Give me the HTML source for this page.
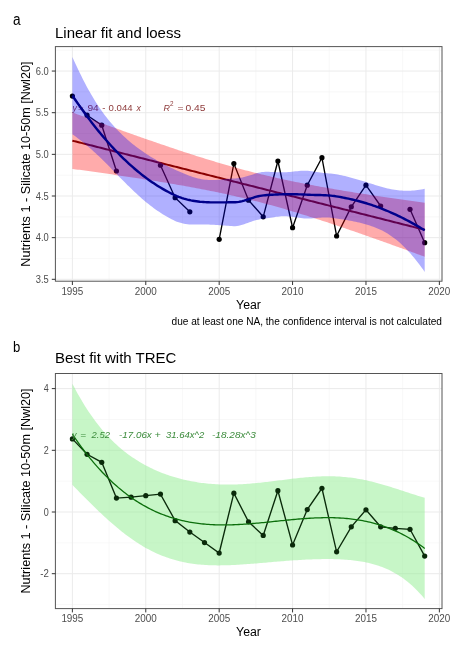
<!DOCTYPE html>
<html><head><meta charset="utf-8"><style>
html,body{margin:0;padding:0;background:#fff;width:455px;height:651px;overflow:hidden}
svg{display:block;filter:blur(0.4px)}
text{font-family:"Liberation Sans", sans-serif}
</style></head><body>
<svg width="455" height="651" viewBox="0 0 455 651">
<rect x="0" y="0" width="455" height="651" fill="#fff"/>
<text x="12.9" y="24.7" font-size="15.6" textLength="7.6" lengthAdjust="spacingAndGlyphs" fill="#000">a</text>
<text x="55" y="37.5" font-size="15" fill="#000">Linear fit and loess</text>
<g>
<rect x="55.4" y="46.6" width="386.6" height="234.6" fill="#fff"/>
<line x1="109.09" y1="46.6" x2="109.09" y2="281.2" stroke="#f3f3f3" stroke-width="0.6"/>
<line x1="182.48" y1="46.6" x2="182.48" y2="281.2" stroke="#f3f3f3" stroke-width="0.6"/>
<line x1="255.88" y1="46.6" x2="255.88" y2="281.2" stroke="#f3f3f3" stroke-width="0.6"/>
<line x1="329.27" y1="46.6" x2="329.27" y2="281.2" stroke="#f3f3f3" stroke-width="0.6"/>
<line x1="402.67" y1="46.6" x2="402.67" y2="281.2" stroke="#f3f3f3" stroke-width="0.6"/>
<line x1="55.4" y1="258.47" x2="442.0" y2="258.47" stroke="#f3f3f3" stroke-width="0.6"/>
<line x1="55.4" y1="216.82" x2="442.0" y2="216.82" stroke="#f3f3f3" stroke-width="0.6"/>
<line x1="55.4" y1="175.18" x2="442.0" y2="175.18" stroke="#f3f3f3" stroke-width="0.6"/>
<line x1="55.4" y1="133.52" x2="442.0" y2="133.52" stroke="#f3f3f3" stroke-width="0.6"/>
<line x1="55.4" y1="91.88" x2="442.0" y2="91.88" stroke="#f3f3f3" stroke-width="0.6"/>
<line x1="55.4" y1="50.22" x2="442.0" y2="50.22" stroke="#f3f3f3" stroke-width="0.6"/>
<line x1="72.39" y1="46.6" x2="72.39" y2="281.2" stroke="#ebebeb" stroke-width="1"/>
<line x1="145.78" y1="46.6" x2="145.78" y2="281.2" stroke="#ebebeb" stroke-width="1"/>
<line x1="219.18" y1="46.6" x2="219.18" y2="281.2" stroke="#ebebeb" stroke-width="1"/>
<line x1="292.57" y1="46.6" x2="292.57" y2="281.2" stroke="#ebebeb" stroke-width="1"/>
<line x1="365.97" y1="46.6" x2="365.97" y2="281.2" stroke="#ebebeb" stroke-width="1"/>
<line x1="439.37" y1="46.6" x2="439.37" y2="281.2" stroke="#ebebeb" stroke-width="1"/>
<line x1="55.4" y1="279.30" x2="442.0" y2="279.30" stroke="#ebebeb" stroke-width="1"/>
<line x1="55.4" y1="237.65" x2="442.0" y2="237.65" stroke="#ebebeb" stroke-width="1"/>
<line x1="55.4" y1="196.00" x2="442.0" y2="196.00" stroke="#ebebeb" stroke-width="1"/>
<line x1="55.4" y1="154.35" x2="442.0" y2="154.35" stroke="#ebebeb" stroke-width="1"/>
<line x1="55.4" y1="112.70" x2="442.0" y2="112.70" stroke="#ebebeb" stroke-width="1"/>
<line x1="55.4" y1="71.05" x2="442.0" y2="71.05" stroke="#ebebeb" stroke-width="1"/>
</g>
<path d="M72.39,96.04 L87.07,115.20 L101.75,125.20 L116.43,171.01" fill="none" stroke="#000" stroke-width="1.35"/>
<path d="M160.46,165.18 L175.14,197.67 L189.82,211.83" fill="none" stroke="#000" stroke-width="1.35"/>
<path d="M219.18,239.32 L233.86,163.51 L248.54,200.16 L263.22,216.82 L277.90,161.01 L292.57,227.65 L307.25,185.17 L321.93,157.68 L336.61,235.98 L351.29,206.83 L365.97,185.17 L380.65,206.00" fill="none" stroke="#000" stroke-width="1.35"/>
<path d="M410.01,209.33 L424.69,242.65" fill="none" stroke="#000" stroke-width="1.35"/>
<circle cx="72.39" cy="96.04" r="2.6" fill="#000"/>
<circle cx="87.07" cy="115.20" r="2.6" fill="#000"/>
<circle cx="101.75" cy="125.20" r="2.6" fill="#000"/>
<circle cx="116.43" cy="171.01" r="2.6" fill="#000"/>
<circle cx="160.46" cy="165.18" r="2.6" fill="#000"/>
<circle cx="175.14" cy="197.67" r="2.6" fill="#000"/>
<circle cx="189.82" cy="211.83" r="2.6" fill="#000"/>
<circle cx="219.18" cy="239.32" r="2.6" fill="#000"/>
<circle cx="233.86" cy="163.51" r="2.6" fill="#000"/>
<circle cx="248.54" cy="200.16" r="2.6" fill="#000"/>
<circle cx="263.22" cy="216.82" r="2.6" fill="#000"/>
<circle cx="277.90" cy="161.01" r="2.6" fill="#000"/>
<circle cx="292.57" cy="227.65" r="2.6" fill="#000"/>
<circle cx="307.25" cy="185.17" r="2.6" fill="#000"/>
<circle cx="321.93" cy="157.68" r="2.6" fill="#000"/>
<circle cx="336.61" cy="235.98" r="2.6" fill="#000"/>
<circle cx="351.29" cy="206.83" r="2.6" fill="#000"/>
<circle cx="365.97" cy="185.17" r="2.6" fill="#000"/>
<circle cx="380.65" cy="206.00" r="2.6" fill="#000"/>
<circle cx="410.01" cy="209.33" r="2.6" fill="#000"/>
<circle cx="424.69" cy="242.65" r="2.6" fill="#000"/>
<path d="M72.39,112.43 L74.16,113.08 L75.93,113.73 L77.70,114.39 L79.47,115.04 L81.24,115.69 L83.01,116.34 L84.78,116.99 L86.55,117.64 L88.32,118.29 L90.09,118.94 L91.86,119.59 L93.63,120.24 L95.40,120.88 L97.17,121.53 L98.94,122.17 L100.72,122.82 L102.49,123.46 L104.26,124.11 L106.03,124.75 L107.80,125.39 L109.57,126.03 L111.34,126.67 L113.11,127.31 L114.88,127.95 L116.65,128.59 L118.42,129.22 L120.19,129.86 L121.96,130.49 L123.73,131.13 L125.50,131.76 L127.27,132.39 L129.04,133.02 L130.81,133.65 L132.58,134.28 L134.35,134.91 L136.12,135.53 L137.89,136.16 L139.66,136.78 L141.43,137.41 L143.20,138.03 L144.97,138.65 L146.74,139.27 L148.51,139.88 L150.28,140.50 L152.05,141.11 L153.83,141.73 L155.60,142.34 L157.37,142.95 L159.14,143.56 L160.91,144.16 L162.68,144.77 L164.45,145.37 L166.22,145.97 L167.99,146.57 L169.76,147.17 L171.53,147.77 L173.30,148.36 L175.07,148.95 L176.84,149.54 L178.61,150.13 L180.38,150.72 L182.15,151.30 L183.92,151.88 L185.69,152.46 L187.46,153.04 L189.23,153.61 L191.00,154.19 L192.77,154.75 L194.54,155.32 L196.31,155.89 L198.08,156.45 L199.85,157.01 L201.62,157.56 L203.39,158.11 L205.16,158.66 L206.94,159.21 L208.71,159.75 L210.48,160.30 L212.25,160.83 L214.02,161.37 L215.79,161.90 L217.56,162.43 L219.33,162.95 L221.10,163.47 L222.87,163.99 L224.64,164.50 L226.41,165.01 L228.18,165.52 L229.95,166.02 L231.72,166.52 L233.49,167.02 L235.26,167.51 L237.03,168.00 L238.80,168.48 L240.57,168.96 L242.34,169.44 L244.11,169.91 L245.88,170.38 L247.65,170.85 L249.42,171.31 L251.19,171.76 L252.96,172.21 L254.73,172.66 L256.50,173.11 L258.27,173.55 L260.05,173.98 L261.82,174.42 L263.59,174.85 L265.36,175.27 L267.13,175.69 L268.90,176.11 L270.67,176.52 L272.44,176.93 L274.21,177.33 L275.98,177.73 L277.75,178.13 L279.52,178.53 L281.29,178.92 L283.06,179.30 L284.83,179.69 L286.60,180.06 L288.37,180.44 L290.14,180.81 L291.91,181.18 L293.68,181.55 L295.45,181.91 L297.22,182.27 L298.99,182.62 L300.76,182.98 L302.53,183.33 L304.30,183.67 L306.07,184.02 L307.84,184.36 L309.61,184.70 L311.38,185.03 L313.16,185.36 L314.93,185.69 L316.70,186.02 L318.47,186.35 L320.24,186.67 L322.01,186.99 L323.78,187.30 L325.55,187.62 L327.32,187.93 L329.09,188.24 L330.86,188.55 L332.63,188.86 L334.40,189.16 L336.17,189.46 L337.94,189.76 L339.71,190.06 L341.48,190.36 L343.25,190.65 L345.02,190.95 L346.79,191.24 L348.56,191.53 L350.33,191.82 L352.10,192.10 L353.87,192.39 L355.64,192.67 L357.41,192.95 L359.18,193.23 L360.95,193.51 L362.72,193.79 L364.49,194.06 L366.27,194.34 L368.04,194.61 L369.81,194.88 L371.58,195.15 L373.35,195.42 L375.12,195.69 L376.89,195.96 L378.66,196.23 L380.43,196.49 L382.20,196.76 L383.97,197.02 L385.74,197.28 L387.51,197.54 L389.28,197.80 L391.05,198.06 L392.82,198.32 L394.59,198.58 L396.36,198.83 L398.13,199.09 L399.90,199.34 L401.67,199.60 L403.44,199.85 L405.21,200.11 L406.98,200.36 L408.75,200.61 L410.52,200.86 L412.29,201.11 L414.06,201.36 L415.83,201.61 L417.60,201.85 L419.38,202.10 L421.15,202.35 L422.92,202.59 L424.69,202.84 L424.69,256.73 L422.92,256.08 L421.15,255.43 L419.38,254.78 L417.60,254.13 L415.83,253.48 L414.06,252.84 L412.29,252.19 L410.52,251.54 L408.75,250.90 L406.98,250.25 L405.21,249.61 L403.44,248.97 L401.67,248.33 L399.90,247.68 L398.13,247.04 L396.36,246.40 L394.59,245.76 L392.82,245.13 L391.05,244.49 L389.28,243.85 L387.51,243.22 L385.74,242.58 L383.97,241.95 L382.20,241.32 L380.43,240.69 L378.66,240.05 L376.89,239.43 L375.12,238.80 L373.35,238.17 L371.58,237.54 L369.81,236.92 L368.04,236.30 L366.27,235.67 L364.49,235.05 L362.72,234.43 L360.95,233.81 L359.18,233.20 L357.41,232.58 L355.64,231.97 L353.87,231.36 L352.10,230.74 L350.33,230.13 L348.56,229.53 L346.79,228.92 L345.02,228.32 L343.25,227.71 L341.48,227.11 L339.71,226.51 L337.94,225.92 L336.17,225.32 L334.40,224.73 L332.63,224.14 L330.86,223.55 L329.09,222.96 L327.32,222.37 L325.55,221.79 L323.78,221.21 L322.01,220.63 L320.24,220.06 L318.47,219.48 L316.70,218.91 L314.93,218.34 L313.16,217.78 L311.38,217.21 L309.61,216.65 L307.84,216.10 L306.07,215.54 L304.30,214.99 L302.53,214.44 L300.76,213.89 L298.99,213.35 L297.22,212.81 L295.45,212.27 L293.68,211.74 L291.91,211.21 L290.14,210.68 L288.37,210.16 L286.60,209.64 L284.83,209.12 L283.06,208.61 L281.29,208.10 L279.52,207.60 L277.75,207.09 L275.98,206.60 L274.21,206.10 L272.44,205.61 L270.67,205.12 L268.90,204.64 L267.13,204.16 L265.36,203.69 L263.59,203.22 L261.82,202.75 L260.05,202.29 L258.27,201.83 L256.50,201.37 L254.73,200.92 L252.96,200.47 L251.19,200.03 L249.42,199.59 L247.65,199.16 L245.88,198.72 L244.11,198.30 L242.34,197.87 L240.57,197.45 L238.80,197.04 L237.03,196.63 L235.26,196.22 L233.49,195.82 L231.72,195.42 L229.95,195.02 L228.18,194.63 L226.41,194.24 L224.64,193.85 L222.87,193.47 L221.10,193.09 L219.33,192.72 L217.56,192.35 L215.79,191.98 L214.02,191.61 L212.25,191.25 L210.48,190.90 L208.71,190.54 L206.94,190.19 L205.16,189.84 L203.39,189.49 L201.62,189.15 L199.85,188.81 L198.08,188.47 L196.31,188.14 L194.54,187.81 L192.77,187.48 L191.00,187.15 L189.23,186.83 L187.46,186.51 L185.69,186.19 L183.92,185.87 L182.15,185.56 L180.38,185.25 L178.61,184.94 L176.84,184.63 L175.07,184.32 L173.30,184.02 L171.53,183.72 L169.76,183.42 L167.99,183.12 L166.22,182.82 L164.45,182.53 L162.68,182.24 L160.91,181.95 L159.14,181.66 L157.37,181.37 L155.60,181.09 L153.83,180.80 L152.05,180.52 L150.28,180.24 L148.51,179.96 L146.74,179.68 L144.97,179.40 L143.20,179.13 L141.43,178.85 L139.66,178.58 L137.89,178.31 L136.12,178.04 L134.35,177.77 L132.58,177.50 L130.81,177.23 L129.04,176.97 L127.27,176.70 L125.50,176.44 L123.73,176.18 L121.96,175.91 L120.19,175.65 L118.42,175.39 L116.65,175.13 L114.88,174.88 L113.11,174.62 L111.34,174.36 L109.57,174.11 L107.80,173.85 L106.03,173.60 L104.26,173.34 L102.49,173.09 L100.72,172.84 L98.94,172.59 L97.17,172.34 L95.40,172.09 L93.63,171.84 L91.86,171.59 L90.09,171.34 L88.32,171.10 L86.55,170.85 L84.78,170.61 L83.01,170.36 L81.24,170.12 L79.47,169.87 L77.70,169.63 L75.93,169.39 L74.16,169.14 L72.39,168.90 Z" fill="#ff0000" fill-opacity="0.33"/>
<path d="M72.39,140.66 L74.16,141.11 L75.93,141.56 L77.70,142.01 L79.47,142.46 L81.24,142.90 L83.01,143.35 L84.78,143.80 L86.55,144.25 L88.32,144.69 L90.09,145.14 L91.86,145.59 L93.63,146.04 L95.40,146.49 L97.17,146.93 L98.94,147.38 L100.72,147.83 L102.49,148.28 L104.26,148.73 L106.03,149.17 L107.80,149.62 L109.57,150.07 L111.34,150.52 L113.11,150.96 L114.88,151.41 L116.65,151.86 L118.42,152.31 L120.19,152.76 L121.96,153.20 L123.73,153.65 L125.50,154.10 L127.27,154.55 L129.04,154.99 L130.81,155.44 L132.58,155.89 L134.35,156.34 L136.12,156.79 L137.89,157.23 L139.66,157.68 L141.43,158.13 L143.20,158.58 L144.97,159.03 L146.74,159.47 L148.51,159.92 L150.28,160.37 L152.05,160.82 L153.83,161.26 L155.60,161.71 L157.37,162.16 L159.14,162.61 L160.91,163.06 L162.68,163.50 L164.45,163.95 L166.22,164.40 L167.99,164.85 L169.76,165.30 L171.53,165.74 L173.30,166.19 L175.07,166.64 L176.84,167.09 L178.61,167.53 L180.38,167.98 L182.15,168.43 L183.92,168.88 L185.69,169.33 L187.46,169.77 L189.23,170.22 L191.00,170.67 L192.77,171.12 L194.54,171.56 L196.31,172.01 L198.08,172.46 L199.85,172.91 L201.62,173.36 L203.39,173.80 L205.16,174.25 L206.94,174.70 L208.71,175.15 L210.48,175.60 L212.25,176.04 L214.02,176.49 L215.79,176.94 L217.56,177.39 L219.33,177.83 L221.10,178.28 L222.87,178.73 L224.64,179.18 L226.41,179.63 L228.18,180.07 L229.95,180.52 L231.72,180.97 L233.49,181.42 L235.26,181.87 L237.03,182.31 L238.80,182.76 L240.57,183.21 L242.34,183.66 L244.11,184.10 L245.88,184.55 L247.65,185.00 L249.42,185.45 L251.19,185.90 L252.96,186.34 L254.73,186.79 L256.50,187.24 L258.27,187.69 L260.05,188.14 L261.82,188.58 L263.59,189.03 L265.36,189.48 L267.13,189.93 L268.90,190.37 L270.67,190.82 L272.44,191.27 L274.21,191.72 L275.98,192.17 L277.75,192.61 L279.52,193.06 L281.29,193.51 L283.06,193.96 L284.83,194.40 L286.60,194.85 L288.37,195.30 L290.14,195.75 L291.91,196.20 L293.68,196.64 L295.45,197.09 L297.22,197.54 L298.99,197.99 L300.76,198.44 L302.53,198.88 L304.30,199.33 L306.07,199.78 L307.84,200.23 L309.61,200.67 L311.38,201.12 L313.16,201.57 L314.93,202.02 L316.70,202.47 L318.47,202.91 L320.24,203.36 L322.01,203.81 L323.78,204.26 L325.55,204.71 L327.32,205.15 L329.09,205.60 L330.86,206.05 L332.63,206.50 L334.40,206.94 L336.17,207.39 L337.94,207.84 L339.71,208.29 L341.48,208.74 L343.25,209.18 L345.02,209.63 L346.79,210.08 L348.56,210.53 L350.33,210.97 L352.10,211.42 L353.87,211.87 L355.64,212.32 L357.41,212.77 L359.18,213.21 L360.95,213.66 L362.72,214.11 L364.49,214.56 L366.27,215.01 L368.04,215.45 L369.81,215.90 L371.58,216.35 L373.35,216.80 L375.12,217.24 L376.89,217.69 L378.66,218.14 L380.43,218.59 L382.20,219.04 L383.97,219.48 L385.74,219.93 L387.51,220.38 L389.28,220.83 L391.05,221.28 L392.82,221.72 L394.59,222.17 L396.36,222.62 L398.13,223.07 L399.90,223.51 L401.67,223.96 L403.44,224.41 L405.21,224.86 L406.98,225.31 L408.75,225.75 L410.52,226.20 L412.29,226.65 L414.06,227.10 L415.83,227.54 L417.60,227.99 L419.38,228.44 L421.15,228.89 L422.92,229.34 L424.69,229.78" fill="none" stroke="#8b0000" stroke-width="2.0"/>
<text x="72.4" y="111.3" fill="#8e3b3b" font-size="8.9" font-style="italic">y</text>
<text x="77.9" y="111.3" fill="#8e3b3b" font-size="8.9" textLength="5.6" lengthAdjust="spacingAndGlyphs">=</text>
<text x="87.4" y="111.3" fill="#8e3b3b" font-size="8.9" textLength="11.3" lengthAdjust="spacingAndGlyphs">94</text>
<text x="102.2" y="111.3" fill="#8e3b3b" font-size="8.9" textLength="3.2" lengthAdjust="spacingAndGlyphs">-</text>
<text x="108.6" y="111.3" fill="#8e3b3b" font-size="8.9" textLength="24" lengthAdjust="spacingAndGlyphs">0.044</text>
<text x="136.4" y="111.3" fill="#8e3b3b" font-size="8.9" font-style="italic">x</text>
<text x="163.6" y="111.3" fill="#8e3b3b" font-size="8.9" font-style="italic">R</text>
<text x="170" y="105.6" fill="#8e3b3b" font-size="6.3">2</text>
<text x="177.6" y="111.3" fill="#8e3b3b" font-size="8.9" textLength="6" lengthAdjust="spacingAndGlyphs">=</text>
<text x="185.5" y="111.3" fill="#8e3b3b" font-size="8.9" textLength="20" lengthAdjust="spacingAndGlyphs">0.45</text>
<path d="M72.39,57.02 L74.16,60.96 L75.93,64.81 L77.70,68.58 L79.47,72.27 L81.24,75.87 L83.01,79.38 L84.78,82.81 L86.55,86.14 L88.32,89.38 L90.09,92.54 L91.86,95.59 L93.63,98.56 L95.40,101.43 L97.17,104.22 L98.94,106.91 L100.72,109.51 L102.49,112.02 L104.26,114.44 L106.03,116.78 L107.80,119.04 L109.57,121.22 L111.34,123.33 L113.11,125.36 L114.88,127.33 L116.65,129.23 L118.42,131.06 L120.19,132.84 L121.96,134.57 L123.73,136.24 L125.50,137.86 L127.27,139.43 L129.04,140.95 L130.81,142.44 L132.58,143.88 L134.35,145.28 L136.12,146.65 L137.89,147.98 L139.66,149.28 L141.43,150.54 L143.20,151.77 L144.97,152.98 L146.74,154.15 L148.51,155.30 L150.28,156.42 L152.05,157.51 L153.83,158.58 L155.60,159.62 L157.37,160.64 L159.14,161.64 L160.91,162.61 L162.68,163.57 L164.45,164.50 L166.22,165.41 L167.99,166.30 L169.76,167.17 L171.53,168.02 L173.30,168.85 L175.07,169.67 L176.84,170.47 L178.61,171.26 L180.38,172.05 L182.15,172.82 L183.92,173.57 L185.69,174.30 L187.46,175.00 L189.23,175.68 L191.00,176.32 L192.77,176.92 L194.54,177.47 L196.31,177.98 L198.08,178.44 L199.85,178.84 L201.62,179.19 L203.39,179.48 L205.16,179.71 L206.94,179.87 L208.71,179.98 L210.48,180.04 L212.25,180.04 L214.02,179.99 L215.79,179.91 L217.56,179.78 L219.33,179.63 L221.10,179.46 L222.87,179.28 L224.64,179.10 L226.41,178.92 L228.18,178.76 L229.95,178.63 L231.72,178.52 L233.49,178.46 L235.26,178.41 L237.03,178.28 L238.80,178.08 L240.57,177.81 L242.34,177.47 L244.11,177.07 L245.88,176.62 L247.65,176.11 L249.42,175.57 L251.19,175.00 L252.96,174.42 L254.73,173.86 L256.50,173.32 L258.27,172.83 L260.05,172.43 L261.82,172.12 L263.59,171.95 L265.36,171.87 L267.13,171.84 L268.90,171.86 L270.67,171.92 L272.44,171.99 L274.21,172.08 L275.98,172.17 L277.75,172.24 L279.52,172.29 L281.29,172.31 L283.06,172.30 L284.83,172.25 L286.60,172.16 L288.37,172.04 L290.14,171.88 L291.91,171.71 L293.68,171.51 L295.45,171.32 L297.22,171.13 L298.99,170.96 L300.76,170.82 L302.53,170.72 L304.30,170.69 L306.07,170.72 L307.84,170.82 L309.61,171.00 L311.38,171.22 L313.16,171.47 L314.93,171.74 L316.70,172.01 L318.47,172.27 L320.24,172.52 L322.01,172.73 L323.78,172.92 L325.55,173.09 L327.32,173.24 L329.09,173.38 L330.86,173.53 L332.63,173.71 L334.40,173.94 L336.17,174.22 L337.94,174.56 L339.71,174.92 L341.48,175.29 L343.25,175.69 L345.02,176.10 L346.79,176.52 L348.56,176.97 L350.33,177.43 L352.10,177.90 L353.87,178.38 L355.64,178.88 L357.41,179.40 L359.18,179.92 L360.95,180.45 L362.72,180.99 L364.49,181.54 L366.27,182.10 L368.04,182.66 L369.81,183.22 L371.58,183.78 L373.35,184.34 L375.12,184.90 L376.89,185.45 L378.66,186.00 L380.43,186.53 L382.20,187.04 L383.97,187.53 L385.74,188.00 L387.51,188.43 L389.28,188.83 L391.05,189.20 L392.82,189.53 L394.59,189.82 L396.36,190.07 L398.13,190.28 L399.90,190.46 L401.67,190.59 L403.44,190.68 L405.21,190.73 L406.98,190.74 L408.75,190.71 L410.52,190.64 L412.29,190.54 L414.06,190.40 L415.83,190.22 L417.60,190.00 L419.38,189.75 L421.15,189.47 L422.92,189.15 L424.69,188.80 L424.69,271.88 L422.92,269.37 L421.15,266.92 L419.38,264.53 L417.60,262.21 L415.83,259.96 L414.06,257.78 L412.29,255.66 L410.52,253.62 L408.75,251.65 L406.98,249.74 L405.21,247.91 L403.44,246.15 L401.67,244.47 L399.90,242.86 L398.13,241.32 L396.36,239.85 L394.59,238.46 L392.82,237.14 L391.05,235.89 L389.28,234.71 L387.51,233.59 L385.74,232.54 L383.97,231.55 L382.20,230.62 L380.43,229.75 L378.66,228.94 L376.89,228.17 L375.12,227.45 L373.35,226.77 L371.58,226.14 L369.81,225.54 L368.04,224.97 L366.27,224.44 L364.49,223.94 L362.72,223.46 L360.95,223.01 L359.18,222.58 L357.41,222.17 L355.64,221.79 L353.87,221.42 L352.10,221.07 L350.33,220.73 L348.56,220.41 L346.79,220.10 L345.02,219.80 L343.25,219.51 L341.48,219.23 L339.71,218.95 L337.94,218.69 L336.17,218.43 L334.40,218.18 L332.63,217.96 L330.86,217.76 L329.09,217.61 L327.32,217.50 L325.55,217.45 L323.78,217.45 L322.01,217.51 L320.24,217.63 L318.47,217.78 L316.70,217.97 L314.93,218.16 L313.16,218.35 L311.38,218.50 L309.61,218.60 L307.84,218.61 L306.07,218.54 L304.30,218.40 L302.53,218.22 L300.76,217.99 L298.99,217.74 L297.22,217.48 L295.45,217.21 L293.68,216.96 L291.91,216.73 L290.14,216.54 L288.37,216.39 L286.60,216.29 L284.83,216.25 L283.06,216.26 L281.29,216.34 L279.52,216.47 L277.75,216.65 L275.98,216.87 L274.21,217.14 L272.44,217.42 L270.67,217.72 L268.90,218.01 L267.13,218.30 L265.36,218.57 L263.59,218.80 L261.82,219.02 L260.05,219.31 L258.27,219.67 L256.50,220.10 L254.73,220.58 L252.96,221.12 L251.19,221.69 L249.42,222.30 L247.65,222.93 L245.88,223.56 L244.11,224.18 L242.34,224.75 L240.57,225.26 L238.80,225.68 L237.03,225.98 L235.26,226.15 L233.49,226.15 L231.72,226.07 L229.95,225.98 L228.18,225.86 L226.41,225.73 L224.64,225.59 L222.87,225.45 L221.10,225.31 L219.33,225.17 L217.56,225.04 L215.79,224.92 L214.02,224.82 L212.25,224.74 L210.48,224.67 L208.71,224.62 L206.94,224.59 L205.16,224.58 L203.39,224.58 L201.62,224.59 L199.85,224.61 L198.08,224.62 L196.31,224.62 L194.54,224.61 L192.77,224.57 L191.00,224.50 L189.23,224.38 L187.46,224.22 L185.69,223.99 L183.92,223.70 L182.15,223.32 L180.38,222.87 L178.61,222.31 L176.84,221.66 L175.07,220.90 L173.30,220.06 L171.53,219.18 L169.76,218.26 L167.99,217.30 L166.22,216.29 L164.45,215.25 L162.68,214.16 L160.91,213.03 L159.14,211.87 L157.37,210.66 L155.60,209.42 L153.83,208.14 L152.05,206.82 L150.28,205.46 L148.51,204.06 L146.74,202.63 L144.97,201.17 L143.20,199.67 L141.43,198.14 L139.66,196.58 L137.89,194.99 L136.12,193.37 L134.35,191.72 L132.58,190.04 L130.81,188.34 L129.04,186.62 L127.27,184.88 L125.50,183.11 L123.73,181.34 L121.96,179.54 L120.19,177.74 L118.42,175.93 L116.65,174.11 L114.88,172.30 L113.11,170.48 L111.34,168.66 L109.57,166.86 L107.80,165.06 L106.03,163.28 L104.26,161.51 L102.49,159.76 L100.72,158.03 L98.94,156.33 L97.17,154.65 L95.40,153.01 L93.63,151.39 L91.86,149.81 L90.09,148.25 L88.32,146.73 L86.55,145.23 L84.78,143.76 L83.01,142.32 L81.24,140.90 L79.47,139.51 L77.70,138.14 L75.93,136.79 L74.16,135.47 L72.39,134.16 Z" fill="#0000ff" fill-opacity="0.31"/>
<path d="M72.39,95.59 L74.16,98.21 L75.93,100.80 L77.70,103.36 L79.47,105.89 L81.24,108.39 L83.01,110.85 L84.78,113.28 L86.55,115.68 L88.32,118.06 L90.09,120.39 L91.86,122.70 L93.63,124.98 L95.40,127.22 L97.17,129.44 L98.94,131.62 L100.72,133.77 L102.49,135.89 L104.26,137.97 L106.03,140.03 L107.80,142.05 L109.57,144.04 L111.34,146.00 L113.11,147.92 L114.88,149.81 L116.65,151.67 L118.42,153.50 L120.19,155.29 L121.96,157.06 L123.73,158.79 L125.50,160.48 L127.27,162.15 L129.04,163.79 L130.81,165.39 L132.58,166.96 L134.35,168.50 L136.12,170.01 L137.89,171.48 L139.66,172.93 L141.43,174.34 L143.20,175.72 L144.97,177.07 L146.74,178.39 L148.51,179.68 L150.28,180.94 L152.05,182.16 L153.83,183.36 L155.60,184.52 L157.37,185.65 L159.14,186.75 L160.91,187.82 L162.68,188.86 L164.45,189.87 L166.22,190.85 L167.99,191.80 L169.76,192.71 L171.53,193.60 L173.30,194.46 L175.07,195.28 L176.84,196.06 L178.61,196.79 L180.38,197.46 L182.15,198.07 L183.92,198.63 L185.69,199.14 L187.46,199.61 L189.23,200.03 L191.00,200.41 L192.77,200.74 L194.54,201.04 L196.31,201.30 L198.08,201.53 L199.85,201.73 L201.62,201.89 L203.39,202.03 L205.16,202.14 L206.94,202.23 L208.71,202.30 L210.48,202.35 L212.25,202.39 L214.02,202.41 L215.79,202.41 L217.56,202.41 L219.33,202.40 L221.10,202.39 L222.87,202.37 L224.64,202.35 L226.41,202.33 L228.18,202.31 L229.95,202.30 L231.72,202.30 L233.49,202.30 L235.26,202.28 L237.03,202.13 L238.80,201.88 L240.57,201.54 L242.34,201.11 L244.11,200.63 L245.88,200.09 L247.65,199.52 L249.42,198.94 L251.19,198.35 L252.96,197.77 L254.73,197.22 L256.50,196.71 L258.27,196.25 L260.05,195.87 L261.82,195.57 L263.59,195.37 L265.36,195.22 L267.13,195.07 L268.90,194.94 L270.67,194.82 L272.44,194.71 L274.21,194.61 L275.98,194.52 L277.75,194.44 L279.52,194.38 L281.29,194.33 L283.06,194.28 L284.83,194.25 L286.60,194.23 L288.37,194.21 L290.14,194.21 L291.91,194.22 L293.68,194.24 L295.45,194.26 L297.22,194.30 L298.99,194.35 L300.76,194.40 L302.53,194.47 L304.30,194.54 L306.07,194.63 L307.84,194.72 L309.61,194.80 L311.38,194.86 L313.16,194.91 L314.93,194.95 L316.70,194.99 L318.47,195.03 L320.24,195.07 L322.01,195.12 L323.78,195.19 L325.55,195.27 L327.32,195.37 L329.09,195.49 L330.86,195.65 L332.63,195.84 L334.40,196.06 L336.17,196.32 L337.94,196.62 L339.71,196.94 L341.48,197.26 L343.25,197.60 L345.02,197.95 L346.79,198.31 L348.56,198.69 L350.33,199.08 L352.10,199.48 L353.87,199.90 L355.64,200.34 L357.41,200.78 L359.18,201.25 L360.95,201.73 L362.72,202.23 L364.49,202.74 L366.27,203.27 L368.04,203.81 L369.81,204.38 L371.58,204.96 L373.35,205.56 L375.12,206.18 L376.89,206.81 L378.66,207.47 L380.43,208.14 L382.20,208.83 L383.97,209.54 L385.74,210.27 L387.51,211.01 L389.28,211.77 L391.05,212.54 L392.82,213.33 L394.59,214.14 L396.36,214.96 L398.13,215.80 L399.90,216.66 L401.67,217.53 L403.44,218.42 L405.21,219.32 L406.98,220.24 L408.75,221.18 L410.52,222.13 L412.29,223.10 L414.06,224.09 L415.83,225.09 L417.60,226.11 L419.38,227.14 L421.15,228.19 L422.92,229.26 L424.69,230.34" fill="none" stroke="#00008b" stroke-width="2.4"/>
<rect x="55.4" y="46.6" width="386.6" height="234.6" fill="none" stroke="#555" stroke-width="1"/>
<line x1="72.39" y1="281.2" x2="72.39" y2="285.0" stroke="#333" stroke-width="1"/>
<text x="61.39" y="294.8" font-size="10.2" fill="#4d4d4d" textLength="22.0" lengthAdjust="spacingAndGlyphs">1995</text>
<line x1="145.78" y1="281.2" x2="145.78" y2="285.0" stroke="#333" stroke-width="1"/>
<text x="134.78" y="294.8" font-size="10.2" fill="#4d4d4d" textLength="22.0" lengthAdjust="spacingAndGlyphs">2000</text>
<line x1="219.18" y1="281.2" x2="219.18" y2="285.0" stroke="#333" stroke-width="1"/>
<text x="208.18" y="294.8" font-size="10.2" fill="#4d4d4d" textLength="22.0" lengthAdjust="spacingAndGlyphs">2005</text>
<line x1="292.57" y1="281.2" x2="292.57" y2="285.0" stroke="#333" stroke-width="1"/>
<text x="281.57" y="294.8" font-size="10.2" fill="#4d4d4d" textLength="22.0" lengthAdjust="spacingAndGlyphs">2010</text>
<line x1="365.97" y1="281.2" x2="365.97" y2="285.0" stroke="#333" stroke-width="1"/>
<text x="354.97" y="294.8" font-size="10.2" fill="#4d4d4d" textLength="22.0" lengthAdjust="spacingAndGlyphs">2015</text>
<line x1="439.37" y1="281.2" x2="439.37" y2="285.0" stroke="#333" stroke-width="1"/>
<text x="428.37" y="294.8" font-size="10.2" fill="#4d4d4d" textLength="22.0" lengthAdjust="spacingAndGlyphs">2020</text>
<line x1="51.8" y1="279.30" x2="55.4" y2="279.30" stroke="#333" stroke-width="1"/>
<text x="48.8" y="283.05" font-size="10.4" fill="#4d4d4d" text-anchor="end" textLength="13.0" lengthAdjust="spacingAndGlyphs">3.5</text>
<line x1="51.8" y1="237.65" x2="55.4" y2="237.65" stroke="#333" stroke-width="1"/>
<text x="48.8" y="241.40" font-size="10.4" fill="#4d4d4d" text-anchor="end" textLength="13.0" lengthAdjust="spacingAndGlyphs">4.0</text>
<line x1="51.8" y1="196.00" x2="55.4" y2="196.00" stroke="#333" stroke-width="1"/>
<text x="48.8" y="199.75" font-size="10.4" fill="#4d4d4d" text-anchor="end" textLength="13.0" lengthAdjust="spacingAndGlyphs">4.5</text>
<line x1="51.8" y1="154.35" x2="55.4" y2="154.35" stroke="#333" stroke-width="1"/>
<text x="48.8" y="158.10" font-size="10.4" fill="#4d4d4d" text-anchor="end" textLength="13.0" lengthAdjust="spacingAndGlyphs">5.0</text>
<line x1="51.8" y1="112.70" x2="55.4" y2="112.70" stroke="#333" stroke-width="1"/>
<text x="48.8" y="116.45" font-size="10.4" fill="#4d4d4d" text-anchor="end" textLength="13.0" lengthAdjust="spacingAndGlyphs">5.5</text>
<line x1="51.8" y1="71.05" x2="55.4" y2="71.05" stroke="#333" stroke-width="1"/>
<text x="48.8" y="74.80" font-size="10.4" fill="#4d4d4d" text-anchor="end" textLength="13.0" lengthAdjust="spacingAndGlyphs">6.0</text>
<text x="248.5" y="308.9" font-size="12.3" fill="#000" text-anchor="middle">Year</text>
<text transform="translate(30,164.1) rotate(-90)" font-size="12.65" fill="#000" text-anchor="middle">Nutrients 1 - Silicate 10-50m [Nwl20]</text>
<text x="442" y="325" font-size="10.1" fill="#000" text-anchor="end">due at least one NA, the confidence interval is not calculated</text>
<text x="13.0" y="351.7" font-size="14.6" textLength="7.3" lengthAdjust="spacingAndGlyphs" fill="#000">b</text>
<text x="55" y="363.1" font-size="15" fill="#000">Best fit with TREC</text>
<g>
<rect x="55.4" y="373.5" width="386.6" height="235.10000000000002" fill="#fff"/>
<line x1="109.09" y1="373.5" x2="109.09" y2="608.6" stroke="#f3f3f3" stroke-width="0.6"/>
<line x1="182.48" y1="373.5" x2="182.48" y2="608.6" stroke="#f3f3f3" stroke-width="0.6"/>
<line x1="255.88" y1="373.5" x2="255.88" y2="608.6" stroke="#f3f3f3" stroke-width="0.6"/>
<line x1="329.27" y1="373.5" x2="329.27" y2="608.6" stroke="#f3f3f3" stroke-width="0.6"/>
<line x1="402.67" y1="373.5" x2="402.67" y2="608.6" stroke="#f3f3f3" stroke-width="0.6"/>
<line x1="55.4" y1="604.55" x2="442.0" y2="604.55" stroke="#f3f3f3" stroke-width="0.6"/>
<line x1="55.4" y1="542.85" x2="442.0" y2="542.85" stroke="#f3f3f3" stroke-width="0.6"/>
<line x1="55.4" y1="481.15" x2="442.0" y2="481.15" stroke="#f3f3f3" stroke-width="0.6"/>
<line x1="55.4" y1="419.45" x2="442.0" y2="419.45" stroke="#f3f3f3" stroke-width="0.6"/>
<line x1="72.39" y1="373.5" x2="72.39" y2="608.6" stroke="#ebebeb" stroke-width="1"/>
<line x1="145.78" y1="373.5" x2="145.78" y2="608.6" stroke="#ebebeb" stroke-width="1"/>
<line x1="219.18" y1="373.5" x2="219.18" y2="608.6" stroke="#ebebeb" stroke-width="1"/>
<line x1="292.57" y1="373.5" x2="292.57" y2="608.6" stroke="#ebebeb" stroke-width="1"/>
<line x1="365.97" y1="373.5" x2="365.97" y2="608.6" stroke="#ebebeb" stroke-width="1"/>
<line x1="439.37" y1="373.5" x2="439.37" y2="608.6" stroke="#ebebeb" stroke-width="1"/>
<line x1="55.4" y1="573.70" x2="442.0" y2="573.70" stroke="#ebebeb" stroke-width="1"/>
<line x1="55.4" y1="512.00" x2="442.0" y2="512.00" stroke="#ebebeb" stroke-width="1"/>
<line x1="55.4" y1="450.30" x2="442.0" y2="450.30" stroke="#ebebeb" stroke-width="1"/>
<line x1="55.4" y1="388.60" x2="442.0" y2="388.60" stroke="#ebebeb" stroke-width="1"/>
</g>
<path d="M72.39,383.70 L74.16,387.10 L75.93,390.41 L77.70,393.63 L79.47,396.77 L81.24,399.81 L83.01,402.77 L84.78,405.65 L86.55,408.44 L88.32,411.15 L90.09,413.79 L91.86,416.34 L93.63,418.82 L95.40,421.23 L97.17,423.56 L98.94,425.82 L100.72,428.00 L102.49,430.13 L104.26,432.18 L106.03,434.17 L107.80,436.10 L109.57,437.96 L111.34,439.77 L113.11,441.52 L114.88,443.21 L116.65,444.85 L118.42,446.44 L120.19,447.97 L121.96,449.46 L123.73,450.90 L125.50,452.29 L127.27,453.64 L129.04,454.94 L130.81,456.21 L132.58,457.43 L134.35,458.62 L136.12,459.76 L137.89,460.87 L139.66,461.95 L141.43,462.99 L143.20,464.00 L144.97,464.97 L146.74,465.92 L148.51,466.83 L150.28,467.72 L152.05,468.57 L153.83,469.40 L155.60,470.20 L157.37,470.97 L159.14,471.71 L160.91,472.43 L162.68,473.13 L164.45,473.80 L166.22,474.44 L167.99,475.07 L169.76,475.67 L171.53,476.24 L173.30,476.80 L175.07,477.33 L176.84,477.84 L178.61,478.33 L180.38,478.80 L182.15,479.24 L183.92,479.67 L185.69,480.08 L187.46,480.47 L189.23,480.84 L191.00,481.18 L192.77,481.52 L194.54,481.83 L196.31,482.12 L198.08,482.40 L199.85,482.66 L201.62,482.90 L203.39,483.12 L205.16,483.33 L206.94,483.51 L208.71,483.69 L210.48,483.84 L212.25,483.98 L214.02,484.11 L215.79,484.22 L217.56,484.31 L219.33,484.39 L221.10,484.45 L222.87,484.50 L224.64,484.53 L226.41,484.56 L228.18,484.56 L229.95,484.55 L231.72,484.53 L233.49,484.50 L235.26,484.45 L237.03,484.39 L238.80,484.32 L240.57,484.24 L242.34,484.15 L244.11,484.04 L245.88,483.93 L247.65,483.80 L249.42,483.67 L251.19,483.53 L252.96,483.37 L254.73,483.21 L256.50,483.04 L258.27,482.86 L260.05,482.68 L261.82,482.49 L263.59,482.29 L265.36,482.09 L267.13,481.89 L268.90,481.68 L270.67,481.46 L272.44,481.25 L274.21,481.03 L275.98,480.80 L277.75,480.58 L279.52,480.36 L281.29,480.13 L283.06,479.91 L284.83,479.69 L286.60,479.47 L288.37,479.25 L290.14,479.03 L291.91,478.82 L293.68,478.61 L295.45,478.41 L297.22,478.21 L298.99,478.02 L300.76,477.84 L302.53,477.66 L304.30,477.49 L306.07,477.33 L307.84,477.18 L309.61,477.04 L311.38,476.91 L313.16,476.79 L314.93,476.68 L316.70,476.58 L318.47,476.49 L320.24,476.42 L322.01,476.36 L323.78,476.32 L325.55,476.29 L327.32,476.27 L329.09,476.27 L330.86,476.29 L332.63,476.32 L334.40,476.37 L336.17,476.44 L337.94,476.52 L339.71,476.62 L341.48,476.74 L343.25,476.88 L345.02,477.04 L346.79,477.21 L348.56,477.40 L350.33,477.62 L352.10,477.85 L353.87,478.10 L355.64,478.36 L357.41,478.65 L359.18,478.96 L360.95,479.28 L362.72,479.62 L364.49,479.98 L366.27,480.36 L368.04,480.75 L369.81,481.16 L371.58,481.59 L373.35,482.03 L375.12,482.49 L376.89,482.96 L378.66,483.44 L380.43,483.93 L382.20,484.44 L383.97,484.96 L385.74,485.49 L387.51,486.02 L389.28,486.57 L391.05,487.12 L392.82,487.67 L394.59,488.24 L396.36,488.80 L398.13,489.37 L399.90,489.95 L401.67,490.52 L403.44,491.10 L405.21,491.68 L406.98,492.25 L408.75,492.83 L410.52,493.40 L412.29,493.97 L414.06,494.54 L415.83,495.10 L417.60,495.66 L419.38,496.21 L421.15,496.76 L422.92,497.31 L424.69,497.84 L424.69,598.96 L422.92,596.86 L421.15,594.84 L419.38,592.89 L417.60,591.02 L415.83,589.23 L414.06,587.50 L412.29,585.85 L410.52,584.27 L408.75,582.75 L406.98,581.30 L405.21,579.92 L403.44,578.59 L401.67,577.33 L399.90,576.13 L398.13,574.99 L396.36,573.91 L394.59,572.88 L392.82,571.90 L391.05,570.98 L389.28,570.10 L387.51,569.27 L385.74,568.49 L383.97,567.76 L382.20,567.06 L380.43,566.41 L378.66,565.80 L376.89,565.22 L375.12,564.68 L373.35,564.18 L371.58,563.71 L369.81,563.26 L368.04,562.85 L366.27,562.47 L364.49,562.11 L362.72,561.78 L360.95,561.48 L359.18,561.20 L357.41,560.94 L355.64,560.70 L353.87,560.48 L352.10,560.28 L350.33,560.10 L348.56,559.93 L346.79,559.79 L345.02,559.66 L343.25,559.54 L341.48,559.44 L339.71,559.35 L337.94,559.27 L336.17,559.21 L334.40,559.16 L332.63,559.12 L330.86,559.09 L329.09,559.08 L327.32,559.07 L325.55,559.07 L323.78,559.08 L322.01,559.10 L320.24,559.13 L318.47,559.17 L316.70,559.21 L314.93,559.26 L313.16,559.32 L311.38,559.39 L309.61,559.46 L307.84,559.54 L306.07,559.62 L304.30,559.71 L302.53,559.81 L300.76,559.91 L298.99,560.02 L297.22,560.13 L295.45,560.24 L293.68,560.36 L291.91,560.48 L290.14,560.61 L288.37,560.74 L286.60,560.87 L284.83,561.01 L283.06,561.15 L281.29,561.29 L279.52,561.43 L277.75,561.58 L275.98,561.72 L274.21,561.87 L272.44,562.02 L270.67,562.17 L268.90,562.32 L267.13,562.48 L265.36,562.63 L263.59,562.78 L261.82,562.93 L260.05,563.08 L258.27,563.23 L256.50,563.38 L254.73,563.53 L252.96,563.67 L251.19,563.81 L249.42,563.95 L247.65,564.08 L245.88,564.21 L244.11,564.34 L242.34,564.46 L240.57,564.58 L238.80,564.69 L237.03,564.80 L235.26,564.89 L233.49,564.98 L231.72,565.07 L229.95,565.14 L228.18,565.21 L226.41,565.26 L224.64,565.31 L222.87,565.35 L221.10,565.37 L219.33,565.38 L217.56,565.38 L215.79,565.37 L214.02,565.34 L212.25,565.30 L210.48,565.25 L208.71,565.18 L206.94,565.09 L205.16,564.99 L203.39,564.87 L201.62,564.73 L199.85,564.57 L198.08,564.39 L196.31,564.19 L194.54,563.98 L192.77,563.74 L191.00,563.48 L189.23,563.20 L187.46,562.89 L185.69,562.56 L183.92,562.21 L182.15,561.83 L180.38,561.43 L178.61,561.00 L176.84,560.55 L175.07,560.07 L173.30,559.56 L171.53,559.02 L169.76,558.46 L167.99,557.87 L166.22,557.25 L164.45,556.60 L162.68,555.92 L160.91,555.20 L159.14,554.46 L157.37,553.69 L155.60,552.89 L153.83,552.05 L152.05,551.19 L150.28,550.29 L148.51,549.36 L146.74,548.40 L144.97,547.41 L143.20,546.38 L141.43,545.32 L139.66,544.23 L137.89,543.11 L136.12,541.96 L134.35,540.78 L132.58,539.56 L130.81,538.32 L129.04,537.04 L127.27,535.74 L125.50,534.41 L123.73,533.04 L121.96,531.66 L120.19,530.24 L118.42,528.80 L116.65,527.33 L114.88,525.83 L113.11,524.32 L111.34,522.78 L109.57,521.22 L107.80,519.63 L106.03,518.03 L104.26,516.41 L102.49,514.77 L100.72,513.11 L98.94,511.43 L97.17,509.74 L95.40,508.04 L93.63,506.32 L91.86,504.58 L90.09,502.84 L88.32,501.08 L86.55,499.31 L84.78,497.53 L83.01,495.74 L81.24,493.94 L79.47,492.13 L77.70,490.31 L75.93,488.49 L74.16,486.66 L72.39,484.82 Z" fill="#90ee90" fill-opacity="0.5"/>
<path d="M72.39,438.89 L87.07,454.31 L101.75,462.33 L116.43,498.12 L131.11,497.19 L145.78,495.65 L160.46,494.11 L175.14,520.64 L189.82,532.05 L204.50,542.54 L219.18,553.03 L233.86,493.18 L248.54,521.87 L263.22,535.45 L277.90,490.71 L292.57,545.01 L307.25,509.53 L321.93,488.25 L336.61,551.80 L351.29,526.81 L365.97,509.84 L380.65,526.81 L395.33,528.35 L410.01,529.28 L424.69,556.12" fill="none" stroke="#0a2a0a" stroke-width="1.35"/>
<circle cx="72.39" cy="438.89" r="2.6" fill="#0a2a0a"/>
<circle cx="87.07" cy="454.31" r="2.6" fill="#0a2a0a"/>
<circle cx="101.75" cy="462.33" r="2.6" fill="#0a2a0a"/>
<circle cx="116.43" cy="498.12" r="2.6" fill="#0a2a0a"/>
<circle cx="131.11" cy="497.19" r="2.6" fill="#0a2a0a"/>
<circle cx="145.78" cy="495.65" r="2.6" fill="#0a2a0a"/>
<circle cx="160.46" cy="494.11" r="2.6" fill="#0a2a0a"/>
<circle cx="175.14" cy="520.64" r="2.6" fill="#0a2a0a"/>
<circle cx="189.82" cy="532.05" r="2.6" fill="#0a2a0a"/>
<circle cx="204.50" cy="542.54" r="2.6" fill="#0a2a0a"/>
<circle cx="219.18" cy="553.03" r="2.6" fill="#0a2a0a"/>
<circle cx="233.86" cy="493.18" r="2.6" fill="#0a2a0a"/>
<circle cx="248.54" cy="521.87" r="2.6" fill="#0a2a0a"/>
<circle cx="263.22" cy="535.45" r="2.6" fill="#0a2a0a"/>
<circle cx="277.90" cy="490.71" r="2.6" fill="#0a2a0a"/>
<circle cx="292.57" cy="545.01" r="2.6" fill="#0a2a0a"/>
<circle cx="307.25" cy="509.53" r="2.6" fill="#0a2a0a"/>
<circle cx="321.93" cy="488.25" r="2.6" fill="#0a2a0a"/>
<circle cx="336.61" cy="551.80" r="2.6" fill="#0a2a0a"/>
<circle cx="351.29" cy="526.81" r="2.6" fill="#0a2a0a"/>
<circle cx="365.97" cy="509.84" r="2.6" fill="#0a2a0a"/>
<circle cx="380.65" cy="526.81" r="2.6" fill="#0a2a0a"/>
<circle cx="395.33" cy="528.35" r="2.6" fill="#0a2a0a"/>
<circle cx="410.01" cy="529.28" r="2.6" fill="#0a2a0a"/>
<circle cx="424.69" cy="556.12" r="2.6" fill="#0a2a0a"/>
<path d="M72.39,434.26 L74.16,436.88 L75.93,439.45 L77.70,441.97 L79.47,444.45 L81.24,446.87 L83.01,449.25 L84.78,451.59 L86.55,453.87 L88.32,456.12 L90.09,458.31 L91.86,460.46 L93.63,462.57 L95.40,464.63 L97.17,466.65 L98.94,468.62 L100.72,470.56 L102.49,472.45 L104.26,474.29 L106.03,476.10 L107.80,477.87 L109.57,479.59 L111.34,481.27 L113.11,482.92 L114.88,484.52 L116.65,486.09 L118.42,487.62 L120.19,489.11 L121.96,490.56 L123.73,491.97 L125.50,493.35 L127.27,494.69 L129.04,495.99 L130.81,497.26 L132.58,498.50 L134.35,499.70 L136.12,500.86 L137.89,501.99 L139.66,503.09 L141.43,504.16 L143.20,505.19 L144.97,506.19 L146.74,507.16 L148.51,508.10 L150.28,509.00 L152.05,509.88 L153.83,510.73 L155.60,511.54 L157.37,512.33 L159.14,513.09 L160.91,513.82 L162.68,514.52 L164.45,515.20 L166.22,515.85 L167.99,516.47 L169.76,517.06 L171.53,517.63 L173.30,518.18 L175.07,518.70 L176.84,519.19 L178.61,519.67 L180.38,520.11 L182.15,520.54 L183.92,520.94 L185.69,521.32 L187.46,521.68 L189.23,522.02 L191.00,522.33 L192.77,522.63 L194.54,522.90 L196.31,523.16 L198.08,523.39 L199.85,523.61 L201.62,523.81 L203.39,523.99 L205.16,524.16 L206.94,524.30 L208.71,524.43 L210.48,524.55 L212.25,524.64 L214.02,524.73 L215.79,524.79 L217.56,524.85 L219.33,524.89 L221.10,524.91 L222.87,524.92 L224.64,524.92 L226.41,524.91 L228.18,524.88 L229.95,524.85 L231.72,524.80 L233.49,524.74 L235.26,524.67 L237.03,524.60 L238.80,524.51 L240.57,524.41 L242.34,524.31 L244.11,524.19 L245.88,524.07 L247.65,523.94 L249.42,523.81 L251.19,523.67 L252.96,523.52 L254.73,523.37 L256.50,523.21 L258.27,523.05 L260.05,522.88 L261.82,522.71 L263.59,522.54 L265.36,522.36 L267.13,522.18 L268.90,522.00 L270.67,521.82 L272.44,521.63 L274.21,521.45 L275.98,521.26 L277.75,521.08 L279.52,520.89 L281.29,520.71 L283.06,520.53 L284.83,520.35 L286.60,520.17 L288.37,519.99 L290.14,519.82 L291.91,519.65 L293.68,519.49 L295.45,519.33 L297.22,519.17 L298.99,519.02 L300.76,518.87 L302.53,518.74 L304.30,518.60 L306.07,518.48 L307.84,518.36 L309.61,518.25 L311.38,518.15 L313.16,518.05 L314.93,517.97 L316.70,517.90 L318.47,517.83 L320.24,517.78 L322.01,517.73 L323.78,517.70 L325.55,517.68 L327.32,517.67 L329.09,517.68 L330.86,517.69 L332.63,517.72 L334.40,517.77 L336.17,517.83 L337.94,517.90 L339.71,517.99 L341.48,518.09 L343.25,518.21 L345.02,518.35 L346.79,518.50 L348.56,518.67 L350.33,518.86 L352.10,519.06 L353.87,519.29 L355.64,519.53 L357.41,519.79 L359.18,520.08 L360.95,520.38 L362.72,520.70 L364.49,521.05 L366.27,521.41 L368.04,521.80 L369.81,522.21 L371.58,522.65 L373.35,523.10 L375.12,523.58 L376.89,524.09 L378.66,524.62 L380.43,525.17 L382.20,525.75 L383.97,526.36 L385.74,526.99 L387.51,527.65 L389.28,528.33 L391.05,529.05 L392.82,529.79 L394.59,530.56 L396.36,531.36 L398.13,532.18 L399.90,533.04 L401.67,533.93 L403.44,534.85 L405.21,535.80 L406.98,536.78 L408.75,537.79 L410.52,538.83 L412.29,539.91 L414.06,541.02 L415.83,542.16 L417.60,543.34 L419.38,544.55 L421.15,545.80 L422.92,547.08 L424.69,548.40" fill="none" stroke="#0b6e0b" stroke-width="1.3"/>
<text x="72.0" y="438.2" fill="#3a8a3a" font-size="9" font-style="italic">y</text>
<text x="80.2" y="438.2" fill="#3a8a3a" font-size="9" font-style="italic" textLength="5.8" lengthAdjust="spacingAndGlyphs">=</text>
<text x="91.6" y="438.2" fill="#3a8a3a" font-size="9" font-style="italic" textLength="18.4" lengthAdjust="spacingAndGlyphs">2.52</text>
<text x="119.0" y="438.2" fill="#3a8a3a" font-size="9" font-style="italic" textLength="32.8" lengthAdjust="spacingAndGlyphs">-17.06x</text>
<text x="154.4" y="438.2" fill="#3a8a3a" font-size="9" font-style="italic" textLength="6.2" lengthAdjust="spacingAndGlyphs">+</text>
<text x="166.0" y="438.2" fill="#3a8a3a" font-size="9" font-style="italic" textLength="38.3" lengthAdjust="spacingAndGlyphs">31.64x^2</text>
<text x="212.0" y="438.2" fill="#3a8a3a" font-size="9" font-style="italic" textLength="43.8" lengthAdjust="spacingAndGlyphs">-18.28x^3</text>
<rect x="55.4" y="373.5" width="386.6" height="235.10000000000002" fill="none" stroke="#555" stroke-width="1"/>
<line x1="72.39" y1="608.6" x2="72.39" y2="612.4" stroke="#333" stroke-width="1"/>
<text x="61.39" y="622.2" font-size="10.2" fill="#4d4d4d" textLength="22.0" lengthAdjust="spacingAndGlyphs">1995</text>
<line x1="145.78" y1="608.6" x2="145.78" y2="612.4" stroke="#333" stroke-width="1"/>
<text x="134.78" y="622.2" font-size="10.2" fill="#4d4d4d" textLength="22.0" lengthAdjust="spacingAndGlyphs">2000</text>
<line x1="219.18" y1="608.6" x2="219.18" y2="612.4" stroke="#333" stroke-width="1"/>
<text x="208.18" y="622.2" font-size="10.2" fill="#4d4d4d" textLength="22.0" lengthAdjust="spacingAndGlyphs">2005</text>
<line x1="292.57" y1="608.6" x2="292.57" y2="612.4" stroke="#333" stroke-width="1"/>
<text x="281.57" y="622.2" font-size="10.2" fill="#4d4d4d" textLength="22.0" lengthAdjust="spacingAndGlyphs">2010</text>
<line x1="365.97" y1="608.6" x2="365.97" y2="612.4" stroke="#333" stroke-width="1"/>
<text x="354.97" y="622.2" font-size="10.2" fill="#4d4d4d" textLength="22.0" lengthAdjust="spacingAndGlyphs">2015</text>
<line x1="439.37" y1="608.6" x2="439.37" y2="612.4" stroke="#333" stroke-width="1"/>
<text x="428.37" y="622.2" font-size="10.2" fill="#4d4d4d" textLength="22.0" lengthAdjust="spacingAndGlyphs">2020</text>
<line x1="51.8" y1="573.70" x2="55.4" y2="573.70" stroke="#333" stroke-width="1"/>
<text x="48.8" y="577.45" font-size="10.4" fill="#4d4d4d" text-anchor="end" textLength="8.6" lengthAdjust="spacingAndGlyphs">-2</text>
<line x1="51.8" y1="512.00" x2="55.4" y2="512.00" stroke="#333" stroke-width="1"/>
<text x="48.8" y="515.75" font-size="10.4" fill="#4d4d4d" text-anchor="end" textLength="5.0" lengthAdjust="spacingAndGlyphs">0</text>
<line x1="51.8" y1="450.30" x2="55.4" y2="450.30" stroke="#333" stroke-width="1"/>
<text x="48.8" y="454.05" font-size="10.4" fill="#4d4d4d" text-anchor="end" textLength="5.0" lengthAdjust="spacingAndGlyphs">2</text>
<line x1="51.8" y1="388.60" x2="55.4" y2="388.60" stroke="#333" stroke-width="1"/>
<text x="48.8" y="392.35" font-size="10.4" fill="#4d4d4d" text-anchor="end" textLength="5.0" lengthAdjust="spacingAndGlyphs">4</text>
<text x="248.5" y="635.7" font-size="12.3" fill="#000" text-anchor="middle">Year</text>
<text transform="translate(30,491) rotate(-90)" font-size="12.65" fill="#000" text-anchor="middle">Nutrients 1 - Silicate 10-50m [Nwl20]</text>
</svg></body></html>
